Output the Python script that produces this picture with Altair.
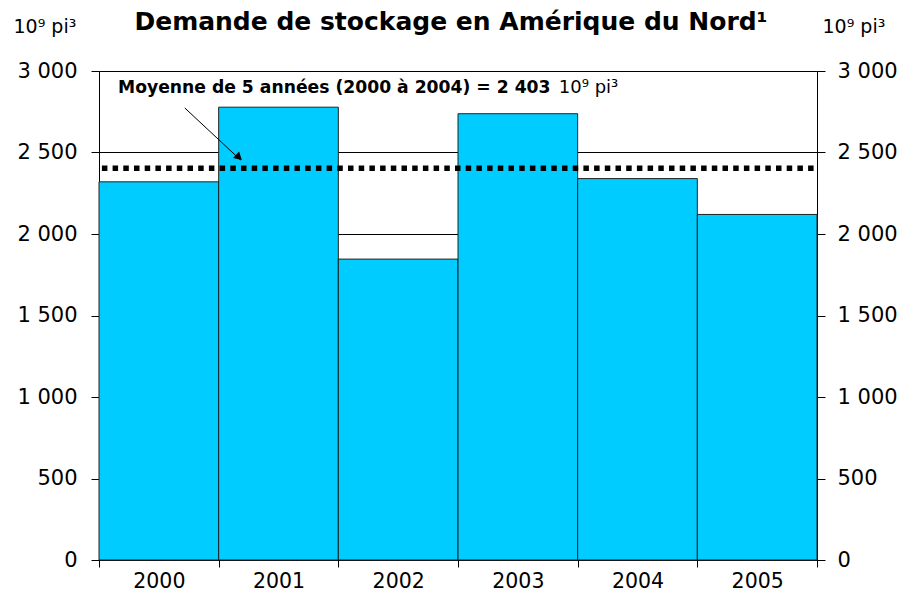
import altair as alt
import pandas as pd

# ---- data ----
years = ["2000", "2001", "2002", "2003", "2004", "2005"]
demand = [2320, 2778, 1846, 2738, 2340, 2120]
avg_value = 2403
y_ticks = [0, 500, 1000, 1500, 2000, 2500, 3000]

title_text = "Demande de stockage en Amérique du Nord¹"
unit_text = "10⁹ pi³"
note_bold = "Moyenne de 5 années (2000 à 2004) = 2 403"
note_year = ["2000"]
note_value = [2865]
unit_year = ["2003"]
arrow_start_year = ["2000"]
arrow_end_year = ["2001"]
arrow_start_value = [2773]
arrow_end_value = [2454]

FONT = "DejaVu Sans"
LABEL_EXPR = "replace(format(datum.value, ','), ',', ' ')"

bars_df = pd.DataFrame({"year": years, "value": demand})
avg_df = pd.DataFrame({"year": years, "avg": [avg_value] * len(years)})
note_df = pd.DataFrame({"year": note_year, "value": note_value, "text": [note_bold]})
unit_df = pd.DataFrame({"year": unit_year, "value": note_value, "text": [unit_text]})
arrow_df = pd.DataFrame({
    "year": arrow_start_year, "year_end": arrow_end_year,
    "value": arrow_start_value, "value_end": arrow_end_value,
})
head_df = pd.DataFrame({"year": arrow_end_year, "value": arrow_end_value})

y_scale = alt.Scale(domain=[0, 3000], nice=False, zero=True)
x_scale = alt.Scale(domain=years, paddingInner=0, paddingOuter=0)

x_axis = alt.Axis(
    title=None, tickBand="extent", labelAngle=0, labelFont=FONT, labelFontSize=20.5,
    labelColor="black", labelPadding=4, tickSize=7, tickColor="black",
    domainColor="black", grid=False, orient="bottom",
)


def x_enc():
    return alt.X("year:N", sort=years, scale=x_scale, axis=x_axis)


def y_axis(orient, label_pad, title_x):
    return alt.Axis(
        orient=orient, values=y_ticks, grid=(orient == "left"),
        gridColor="black", gridOpacity=1, gridWidth=1,
        domainColor="black", domainWidth=1, tickColor="black", tickSize=8, tickWidth=1,
        labelFont=FONT, labelFontSize=21, labelColor="black", labelPadding=label_pad,
        labelExpr=LABEL_EXPR,
        title=unit_text, titleAngle=0, titleAlign="left", titleBaseline="alphabetic",
        titleX=title_x, titleY=-39, titleFont=FONT, titleFontSize=19,
        titleFontWeight="normal", titleColor="black",
    )


bars = alt.Chart(bars_df).mark_bar(
    color="#00CCFF", stroke="#222222", strokeWidth=1
).encode(
    x=x_enc(),
    y=alt.Y("value:Q", scale=y_scale, axis=y_axis("left", 14, -86)),
)

avg_rule = alt.Chart(avg_df).mark_rule(
    color="black", strokeWidth=5.5, strokeDash=[5.5, 5.2], strokeDashOffset=7.3,
    strokeCap="butt",
).encode(
    y=alt.Y("mean(avg):Q", scale=y_scale, axis=y_axis("right", 12, 5)),
)

note = alt.Chart(note_df).mark_text(
    align="left", baseline="alphabetic", font=FONT, fontSize=17.2, fontWeight="bold",
    color="black", xOffset=-40.8,
).encode(
    x=x_enc(),
    y=alt.Y("value:Q", scale=y_scale, axis=None),
    text="text:N",
)

unit_note = alt.Chart(unit_df).mark_text(
    align="left", baseline="alphabetic", font=FONT, fontSize=18, fontWeight="normal",
    color="black", xOffset=41,
).encode(
    x=x_enc(),
    y=alt.Y("value:Q", scale=y_scale, axis=None),
    text="text:N",
)

arrow = alt.Chart(arrow_df).mark_rule(
    color="black", strokeWidth=1, xOffset=26, x2Offset=-38,
).encode(
    x=x_enc(),
    x2="year_end:N",
    y=alt.Y("value:Q", scale=y_scale, axis=None),
    y2="value_end:Q",
)

head = alt.Chart(head_df).mark_point(
    shape="triangle", filled=True, color="black", opacity=1, size=80, angle=132,
    xOffset=-40.5, yOffset=-3.5,
).encode(
    x=x_enc(),
    y=alt.Y("value:Q", scale=y_scale, axis=None),
)

chart = alt.layer(bars, avg_rule, arrow, head, note, unit_note).resolve_axis(
    y="independent"
).properties(
    width=718, height=489,
    autosize=alt.AutoSizeParams(type="none"),
    padding={"left": 91, "top": 63, "right": 80, "bottom": 34},
    title=alt.TitleParams(
        title_text, font=FONT, fontSize=25, fontWeight="bold", color="black",
        anchor="middle", offset=8, dx=-7, dy=26,
    ),
).configure_view(strokeWidth=0).configure(background="white")

chart.save("out.html", embed_options={"renderer": "svg", "actions": False})
